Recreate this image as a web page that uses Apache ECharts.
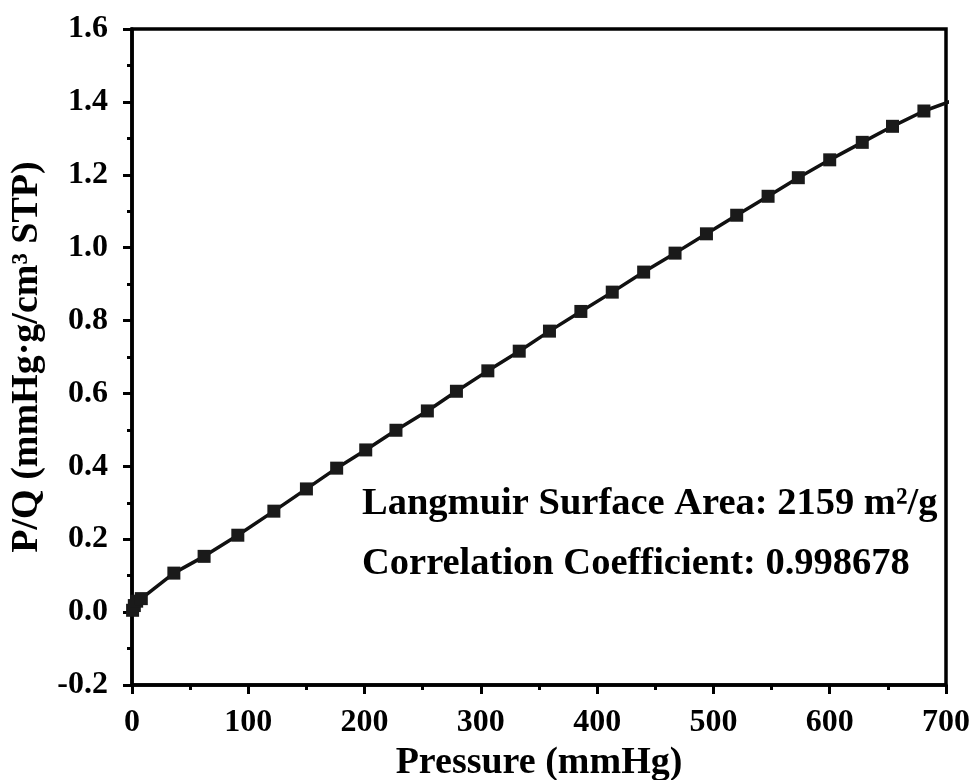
<!DOCTYPE html>
<html>
<head>
<meta charset="utf-8">
<script src="https://cdn.jsdelivr.net/npm/echarts@6/dist/echarts.min.js"></script>
<style>html,body{margin:0;padding:0;background:#fff}#c{width:974px;height:780px}</style>
</head>
<body>
<div id="c"></div>
<script>
var pressure = [0.5, 2, 4, 8, 36, 62, 91, 122, 150, 176, 201, 227, 254, 279, 306, 333, 359, 386, 413, 440, 467, 494, 520, 547, 573, 600, 628, 654, 681, 707];
var pOverQ = [0.005, 0.018, 0.03, 0.037, 0.107, 0.153, 0.211, 0.277, 0.338, 0.395, 0.445, 0.499, 0.552, 0.606, 0.662, 0.716, 0.771, 0.825, 0.878, 0.933, 0.985, 1.038, 1.089, 1.141, 1.192, 1.241, 1.289, 1.333, 1.375, 1.405];
var xTicks = [0, 100, 200, 300, 400, 500, 600, 700];
var yTicks = [-0.2, 0.0, 0.2, 0.4, 0.6, 0.8, 1.0, 1.2, 1.4, 1.6];
var annotations = ['Langmuir Surface Area: 2159 m\u00B2/g', 'Correlation Coefficient: 0.998678'];
var xTitle = 'Pressure (mmHg)';
var yTitle = 'P/Q (mmHg\u00B7g/cm\u00B3 STP)';

var FONT = '"Liberation Serif", "Times New Roman", serif';
var chart = echarts.init(document.getElementById('c'), null, {renderer: 'canvas'});
var data = pressure.map(function (p, i) { return [p, pOverQ[i]]; });

var axisCommon = {
  axisLine: {show: true, onZero: false, lineStyle: {color: '#000', width: 3.5}},
  axisTick: {show: true, inside: false, length: 9, lineStyle: {color: '#000', width: 3}},
  minorTick: {show: true, splitNumber: 2, length: 5, lineStyle: {color: '#000', width: 3}},
  splitLine: {show: false},
  minorSplitLine: {show: false}
};

chart.setOption({
  animation: false,
  backgroundColor: '#fff',
  grid: {left: 132, right: 28, top: 29, bottom: 95, containLabel: false, outerBoundsMode: 'none',
    show: true, borderColor: '#000', borderWidth: 3.5, backgroundColor: 'transparent'},
  xAxis: Object.assign({
    type: 'value', min: xTicks[0], max: xTicks[xTicks.length - 1], interval: 100,
    axisLabel: {show: true, margin: 22, color: '#000', fontFamily: FONT, fontWeight: 'bold', fontSize: 32, showMinLabel: true, showMaxLabel: true},
    name: xTitle, nameLocation: 'middle', nameGap: 53,
    nameTextStyle: {color: '#000', fontFamily: FONT, fontWeight: 'bold', fontSize: 38}
  }, axisCommon),
  yAxis: Object.assign({
    type: 'value', min: yTicks[0], max: yTicks[yTicks.length - 1], interval: 0.2,
    axisLabel: {show: true, margin: 24, color: '#000', fontFamily: FONT, fontWeight: 'bold', fontSize: 32, showMinLabel: true, showMaxLabel: true,
      formatter: function (v) { return v.toFixed(1); }},
    name: yTitle, nameLocation: 'middle', nameGap: 83, nameRotate: 90,
    nameTextStyle: {color: '#000', fontFamily: FONT, fontWeight: 'bold', fontSize: 38}
  }, axisCommon),
  graphic: annotations.map(function (t, i) {
    return {type: 'text', left: 362, top: 485 + i * 60, z: 10,
      style: {text: t, fill: '#000', font: 'bold 38.5px ' + FONT}};
  }),
  series: [{
    type: 'line', data: data, clip: true,
    symbol: 'rect', symbolSize: 13, showAllSymbol: true,
    lineStyle: {color: '#111', width: 3.5},
    itemStyle: {color: '#1a1a1a', borderWidth: 0},
    emphasis: {disabled: true}
  }]
});
</script>
</body>
</html>
